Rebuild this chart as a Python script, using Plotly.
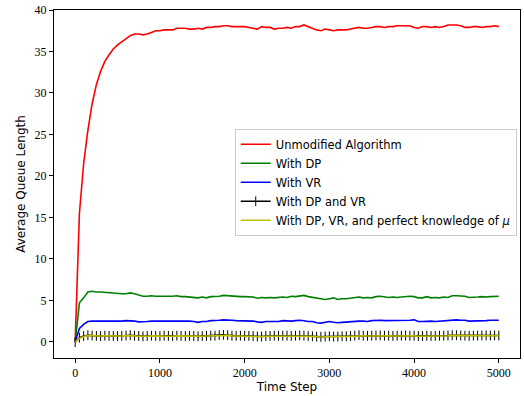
import plotly.graph_objects as go

steps = list(range(0, 5001, 50))

unmodified = [0, 15.5, 21.5, 25.5, 28.7, 31.0, 32.6, 33.8, 34.6, 35.3,
              35.8, 36.2, 36.5, 36.9, 37.1, 37.1, 37.0, 37.1, 37.3, 37.5,
              37.5, 37.6, 37.6, 37.6, 37.8, 37.8, 37.8, 37.7, 37.7, 37.8,
              37.7, 37.9, 37.9, 38.0, 38.0, 38.1, 38.1, 38.0, 38.0, 38.0,
              38.0, 37.9, 37.8, 37.7, 38.0, 37.9, 37.9, 37.7, 37.8, 37.8,
              37.9, 37.8, 38.0, 38.0, 38.2, 38.0, 37.8, 37.6, 37.5, 37.7,
              37.6, 37.5, 37.6, 37.6, 37.6, 37.7, 37.8, 37.9, 37.8, 37.8,
              37.9, 38.0, 38.0, 37.9, 38.0, 38.0, 38.1, 38.1, 38.1, 38.1,
              37.9, 37.8, 38.0, 38.0, 37.9, 38.0, 37.9, 38.0, 38.2, 38.2,
              38.2, 38.1, 37.9, 37.9, 38.0, 38.0, 37.9, 38.0, 38.0, 38.1,
              38.0]

with_dp = [0, 4.7, 5.3, 6.0, 6.1, 6.0, 6.0, 5.95, 5.9, 5.9,
           5.85, 5.8, 5.8, 5.9, 5.8, 5.65, 5.5, 5.5, 5.55, 5.5,
           5.5, 5.5, 5.45, 5.5, 5.55, 5.45, 5.45, 5.4, 5.4, 5.3,
           5.4, 5.3, 5.45, 5.45, 5.5, 5.6, 5.55, 5.5, 5.5, 5.45,
           5.45, 5.45, 5.4, 5.25, 5.35, 5.3, 5.35, 5.3, 5.35, 5.4,
           5.35, 5.5, 5.45, 5.5, 5.6, 5.45, 5.35, 5.3, 5.2, 5.1,
           5.2, 5.3, 5.1, 5.2, 5.2, 5.25, 5.3, 5.4, 5.3, 5.35,
           5.3, 5.45, 5.5, 5.45, 5.35, 5.4, 5.35, 5.4, 5.45, 5.5,
           5.45, 5.3, 5.3, 5.45, 5.3, 5.35, 5.3, 5.4, 5.35, 5.55,
           5.55, 5.5, 5.5, 5.35, 5.35, 5.4, 5.45, 5.4, 5.45, 5.5,
           5.5]

with_vr = [0, 1.6, 2.1, 2.45, 2.5, 2.5, 2.45, 2.5, 2.5, 2.5,
           2.45, 2.5, 2.55, 2.55, 2.5, 2.4, 2.4, 2.45, 2.5, 2.5,
           2.5, 2.5, 2.5, 2.5, 2.55, 2.5, 2.5, 2.5, 2.45, 2.35,
           2.45, 2.45, 2.55, 2.55, 2.6, 2.65, 2.65, 2.6, 2.55, 2.55,
           2.55, 2.55, 2.5, 2.4, 2.35, 2.45, 2.45, 2.5, 2.45, 2.55,
           2.5, 2.5, 2.55, 2.6, 2.55, 2.45, 2.45, 2.3, 2.25, 2.35,
           2.45, 2.35, 2.3, 2.35, 2.4, 2.4, 2.5, 2.5, 2.5, 2.45,
           2.55, 2.6, 2.6, 2.55, 2.55, 2.55, 2.55, 2.6, 2.6, 2.6,
           2.65, 2.45, 2.45, 2.5, 2.5, 2.45, 2.5, 2.5, 2.55, 2.65,
           2.65, 2.6, 2.6, 2.5, 2.5, 2.55, 2.55, 2.55, 2.6, 2.6,
           2.6]

with_dp_vr = [-0.05, 0.5, 0.7, 0.8, 0.75, 0.72, 0.7, 0.74, 0.72, 0.7,
              0.7, 0.72, 0.76, 0.8, 0.74, 0.7, 0.66, 0.7, 0.74, 0.72,
              0.7, 0.74, 0.72, 0.7, 0.74, 0.72, 0.7, 0.72, 0.7, 0.66,
              0.7, 0.72, 0.74, 0.74, 0.8, 0.84, 0.8, 0.74, 0.72, 0.74,
              0.72, 0.72, 0.7, 0.64, 0.64, 0.7, 0.7, 0.74, 0.72, 0.74,
              0.74, 0.72, 0.74, 0.77, 0.74, 0.7, 0.67, 0.62, 0.6, 0.64,
              0.67, 0.64, 0.64, 0.67, 0.67, 0.7, 0.74, 0.8, 0.74, 0.72,
              0.74, 0.76, 0.78, 0.74, 0.74, 0.72, 0.74, 0.74, 0.76, 0.74,
              0.74, 0.7, 0.7, 0.74, 0.7, 0.72, 0.74, 0.74, 0.76, 0.8,
              0.8, 0.76, 0.74, 0.72, 0.74, 0.74, 0.76, 0.78, 0.76, 0.78,
              0.76]

with_dp_vr_mu = [0, 0.4, 0.65, 0.75, 0.75, 0.7, 0.7, 0.72, 0.7, 0.7,
                 0.68, 0.7, 0.75, 0.78, 0.72, 0.68, 0.65, 0.68, 0.72, 0.7,
                 0.7, 0.72, 0.7, 0.68, 0.72, 0.7, 0.68, 0.7, 0.68, 0.65,
                 0.68, 0.7, 0.72, 0.72, 0.78, 0.82, 0.78, 0.72, 0.7, 0.72,
                 0.7, 0.7, 0.68, 0.62, 0.62, 0.68, 0.68, 0.72, 0.7, 0.72,
                 0.72, 0.7, 0.72, 0.75, 0.72, 0.68, 0.65, 0.6, 0.58, 0.62,
                 0.65, 0.62, 0.62, 0.65, 0.65, 0.68, 0.72, 0.78, 0.72, 0.7,
                 0.72, 0.74, 0.76, 0.72, 0.72, 0.7, 0.72, 0.72, 0.74, 0.72,
                 0.72, 0.68, 0.68, 0.72, 0.68, 0.7, 0.72, 0.72, 0.74, 0.78,
                 0.78, 0.74, 0.72, 0.7, 0.72, 0.72, 0.74, 0.76, 0.74, 0.76,
                 0.74]

x_ticks = [0, 1000, 2000, 3000, 4000, 5000]
y_ticks = [0, 5, 10, 15, 20, 25, 30, 35, 40]

fig = go.Figure()
fig.add_trace(go.Scatter(x=steps, y=unmodified, mode="lines", name="Unmodified Algorithm",
                         line=dict(color="#ff0000", width=1.6)))
fig.add_trace(go.Scatter(x=steps, y=with_dp, mode="lines", name="With DP",
                         line=dict(color="#008000", width=1.6)))
fig.add_trace(go.Scatter(x=steps, y=with_vr, mode="lines", name="With VR",
                         line=dict(color="#0000ff", width=1.6)))
fig.add_trace(go.Scatter(x=steps, y=with_dp_vr, mode="lines+markers", name="With DP and VR",
                         line=dict(color="#000000", width=1.6),
                         marker=dict(symbol="line-ns-open", size=7,
                                     line=dict(color="#333333", width=1))))
fig.add_trace(go.Scatter(x=steps, y=with_dp_vr_mu, mode="lines",
                         name="With DP, VR, and perfect knowledge of <i>μ</i>",
                         line=dict(color="#bfbf00", width=1.6)))

serif = "Liberation Serif"
sans = "DejaVu Sans"

fig.update_layout(
    width=524, height=396,
    margin=dict(l=54, r=4, t=10, b=38),
    paper_bgcolor="white", plot_bgcolor="white",
    font=dict(family=sans, size=12, color="black"),
    legend=dict(x=0.993, y=0.505, xanchor="right", yanchor="middle",
                bgcolor="rgba(255,255,255,0.8)", bordercolor="#cccccc", borderwidth=1,
                font=dict(family=sans, size=11.5), tracegroupgap=0,
                itemwidth=30),
    xaxis=dict(range=[-250, 5250], tickvals=x_ticks, showgrid=False, zeroline=False,
               showline=True, linecolor="black", linewidth=1, mirror=True,
               ticks="outside", ticklen=4, tickcolor="black",
               tickfont=dict(family=serif, size=12),
               title=dict(text="Time Step", font=dict(family=sans, size=12), standoff=3)),
    yaxis=dict(range=[-1.95, 40.0], tickvals=y_ticks, showgrid=False, zeroline=False,
               showline=True, linecolor="black", linewidth=1, mirror=True,
               ticks="outside", ticklen=4, tickcolor="black",
               tickfont=dict(family=serif, size=12),
               title=dict(text="Average Queue Length", font=dict(family=sans, size=12), standoff=6)),
)

fig.write_html("out.html")
